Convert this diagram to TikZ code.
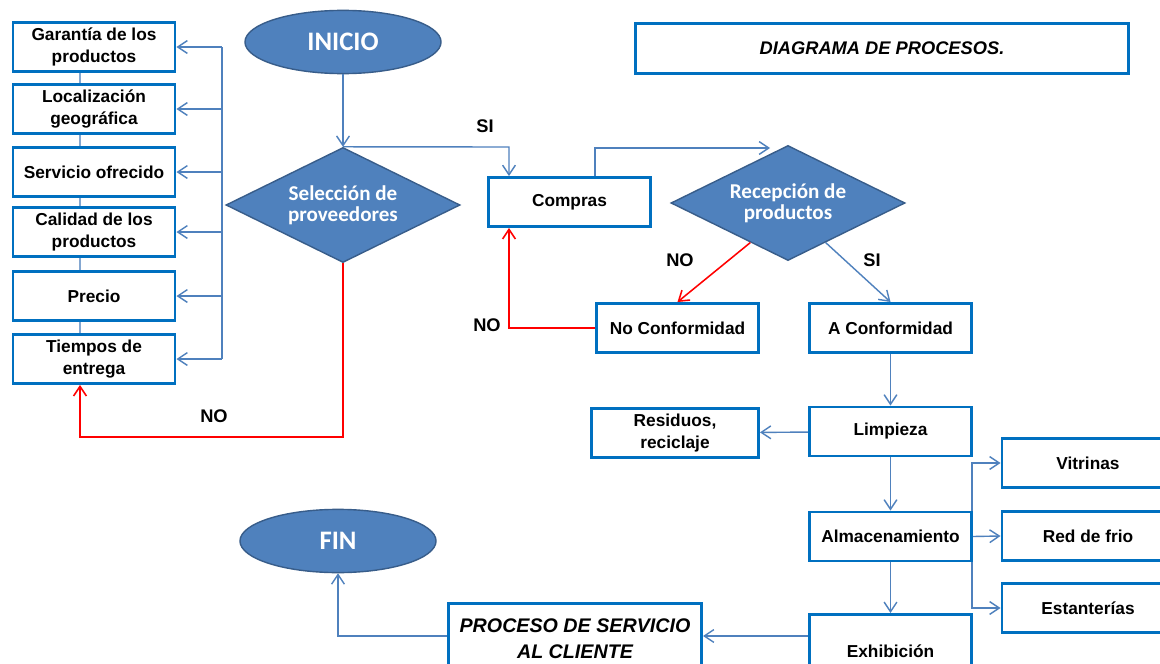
\documentclass[tikz,border=0pt]{standalone}
\usepackage{fontspec}
\setmainfont{Liberation Sans}
\newfontfamily\calfont{Carlito}
\usetikzlibrary{arrows.meta, shapes.geometric, calc}

\definecolor{boxblue}{HTML}{0070C0}
\definecolor{fillblue}{HTML}{4F81BD}
\definecolor{edgeblue}{HTML}{385D8A}
\definecolor{lineblue}{HTML}{4F81BD}
\definecolor{nored}{HTML}{FF0000}

\begin{document}
\begin{tikzpicture}[
  x=0.025cm, y=-0.025cm,
  >={Straight Barb[length=2.4mm, width=3.2mm]},
  box/.style={draw=boxblue, line width=2.1pt, fill=white, inner sep=1pt,
    minimum width=4.05cm, minimum height=1.225cm, align=center,
    font=\bfseries\fontsize{12.3}{15.5}\selectfont},
  terminal/.style={ellipse, draw=edgeblue, line width=1pt, fill=fillblue,
    text=white, inner sep=0pt, minimum width=4.9cm, minimum height=1.58cm,
    font=\calfont\bfseries\fontsize{19}{23}\selectfont},
  decision/.style={diamond, shape aspect=2, draw=edgeblue, line width=1pt,
    fill=fillblue, text=white, inner sep=0pt, minimum width=5.85cm,
    minimum height=2.875cm, align=center,
    font=\calfont\bfseries\fontsize{15}{15}\selectfont},
  link/.style={->, draw=lineblue, line width=1pt},
  nolink/.style={->, draw=nored, line width=1.1pt},
  joint/.style={draw=lineblue!70, line width=0.8pt},
  lbl/.style={font=\bfseries\fontsize{13}{15}\selectfont},
]

% --- Page ---
\useasboundingbox (0,0) rectangle (1160,664);
\clip (0,0) rectangle (1160,664);
\fill[white] (0,0) rectangle (1160,664);

% --- Title ---
\node[box, minimum width=12.325cm, minimum height=1.25cm,
  font=\bfseries\itshape\fontsize{13}{15}\selectfont] (title) at (882,48.5) {DIAGRAMA DE PROCESOS.};

% --- Supplier criteria ---
\node[box] (gar) at (94,47) {Garantía de los\\productos};
\node[box] (loc) at (94,109) {Localización\\geográfica};
\node[box] (serv) at (94,172) {Servicio ofrecido};
\node[box] (cal) at (94,232) {Calidad de los\\productos};
\node[box] (pre) at (94,296) {Precio};
\node[box] (tie) at (94,359) {Tiempos de\\entrega};

\coordinate (lx) at (80,0);
\coordinate (bx) at (222,0);
\draw[joint] (gar.south -| lx) -- (loc.north -| lx);
\draw[joint] (loc.south -| lx) -- (serv.north -| lx);
\draw[joint] (serv.south -| lx) -- (cal.north -| lx);
\draw[joint] (cal.south -| lx) -- (pre.north -| lx);
\draw[joint] (pre.south -| lx) -- (tie.north -| lx);

\draw[draw=lineblue, line width=1pt] (bx |- gar.east) -- (bx |- tie.east);
\foreach \crit in {gar, loc, serv, cal, pre, tie}
  \draw[link] (bx |- \crit.east) -- (\crit.east);

% --- Start and supplier selection ---
\node[terminal] (ini) at (343,42) {INICIO};
\node[decision] (sel) at (343,205) {Selección de\\proveedores};
\draw[link] (ini) -- (sel.north);

% --- Purchasing ---
\node[box] (com) at (569.5,202) {Compras};
\coordinate (csi) at (509,147);
\draw[link] (sel.north) -- (csi) -- (csi |- com.north);
\node[lbl] (si1) at (485,126) {SI};

\node[decision] (rec) at (788,203) {Recepción de\\productos};
\coordinate (rin) at (770,148);
\draw[link] (com.north -| 595,0) |- (rin);

% --- Reception outcome ---
\node[box] (noc) at (677.5,328) {No Conformidad};
\node[box] (aco) at (890.5,328) {A Conformidad};
\draw[nolink] ($(rec.west)!0.68!(rec.south)$) -- (noc.north);
\draw[link] ($(rec.east)!0.68!(rec.south)$) -- (aco.north);
\node[lbl] (no1) at (680,260) {NO};
\node[lbl] (si2) at (872,260) {SI};

\draw[nolink] (noc.west) -| (com.south -| csi);
\node[lbl] (no2) at (487,325) {NO};

\coordinate (selno) at (343,437);
\draw[nolink] (sel.south) -- (selno) -| (tie.south -| lx);
\node[lbl] (no3) at (214,416) {NO};

% --- Handling ---
\node[box] (lim) at (890.5,431.5) {Limpieza};
\node[box, minimum width=4.175cm] (res) at (675,433) {Residuos,\\reciclaje};
\node[box] (alm) at (890.5,536.5) {Almacenamiento};
\node[box, text height=1.03cm, text depth=0.5cm, anchor=base] (exh) at (890.5,657) {Exhibición};
\draw[link] (aco) -- (lim);
\draw[link] (lim) -- (res);
\draw[link] (lim) -- (alm);
\draw[link] (alm) -- (exh);

% --- Storage places ---
\node[box, minimum width=4.3cm] (vit) at (1088,463) {Vitrinas};
\node[box, minimum width=4.3cm] (red) at (1088,536) {Red de frio};
\node[box, minimum width=4.3cm] (est) at (1088,608) {Estanterías};
\coordinate (ax) at (972,0);
\draw[link] (alm.north -| ax) |- (vit.west);
\draw[link] (alm.east) -- (red.west);
\draw[link] (alm.south -| ax) |- (est.west);

% --- Customer service and end ---
\node[box, minimum width=6.325cm, anchor=north,
  font=\bfseries\itshape\fontsize{14}{18.4}\selectfont] (pro) at (575,602)
  {\rule{0pt}{0.7cm}PROCESO DE SERVICIO\\AL CLIENTE\rule[-1cm]{0pt}{0pt}};
\node[terminal] (fin) at (338,541) {FIN};
\coordinate (svc) at (575,636);
\draw[link] (exh.west |- svc) -- (pro.east |- svc);
\draw[link] (pro.west |- svc) -| (fin.south);

\end{tikzpicture}
\end{document}
